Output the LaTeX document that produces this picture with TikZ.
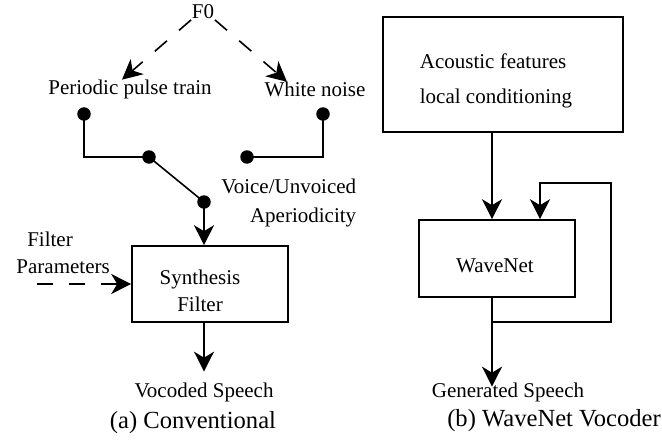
\documentclass[tikz,border=0pt]{standalone}
\usepackage{fontspec}
\setmainfont{Liberation Serif}
\usetikzlibrary{arrows.meta}
\begin{document}
\begin{tikzpicture}[x=1pt,y=-1pt,
  line width=1.6pt,
  lbl/.style={inner sep=0pt,font=\fontsize{21}{25}\selectfont},
  captxt/.style={inner sep=0pt,font=\fontsize{24.6}{30}\selectfont},
  blk/.style={draw,line width=1.6pt,inner sep=0pt},
  dot/.style={circle,fill=black,inner sep=0pt,minimum size=13.5pt},
  arr/.style={-{Stealth[length=20pt,width=20pt,inset=6pt]}},
  dsh/.style={dash pattern=on 16pt off 16pt}]
\useasboundingbox (0,0) rectangle (662,444);
% (a) conventional
\node[lbl] (f0) at (203,12) {F0};
\node[lbl] (ppt) at (130,89) {Periodic pulse train};
\node[lbl] (wnoise) at (315,89) {White noise};
\draw[arr,dsh] (f0.south west) -- ([xshift=-8pt,yshift=-1pt]ppt.north);
\draw[arr,dsh] (f0.south east) -- ([xshift=-28pt,yshift=-1pt]wnoise.north);
\node[dot] (d1) at (84,114) {};
\node[dot] (d2) at (149,157) {};
\node[dot] (d3) at (204,202) {};
\node[dot] (d4) at (247,157) {};
\node[dot] (d5) at (323,114) {};
\draw (d1.center) |- (d2.center);
\draw (d2.center) -- (d3.center);
\draw (d5.center) |- (d4.center);
\node[lbl,align=right,anchor=east] (vu) at (357,203) {Voice/Unvoiced\\[4pt]Aperiodicity};
\node[blk,minimum width=156pt,minimum height=76pt] (synth) at (210,284) {};
\node[lbl,align=center] (synthtxt) at (200,291) {Synthesis\\[2pt]Filter};
\draw[arr] (d3.center) -- (d3.center |- synth.north);
\node[lbl,align=center] (fp) at (50,253) {Filter\\[2pt]\ \ \ \ \ Parameters};
\coordinate (fps) at (37,284);
\draw[arr,dsh] (fps) -- (synth.west |- fps);
\node[lbl] (voc) at (204,392) {Vocoded Speech};
\draw[arr] (synth.south -| d3) -- ([yshift=10pt]voc.north);
\node[captxt] (capa) at (193,423) {(a) Conventional};
% (b) wavenet
\coordinate (ax) at (492,0);
\node[blk,minimum width=240pt,minimum height=115pt] (ac) at (503,74.5) {};
\node[lbl,align=left] (actxt) at (496,81) {Acoustic features\\[10pt]local conditioning};
\node[blk,minimum width=156pt,minimum height=77pt] (wnet) at (497,258.5) {};
\node[lbl] (wntxt) at (495,266) {WaveNet};
\draw[arr] (ac.south -| ax) -- (wnet.north -| ax);
\node[lbl] (gs) at (508,392) {Generated Speech};
\coordinate (jn) at (492,322);
\coordinate (fbtop) at (611,183);
\coordinate (fbx) at (540,0);
\draw (wnet.south -| ax) -- (jn);
\draw[arr] (jn) -- ([yshift=-5pt]gs.north -| ax);
\draw[arr] (jn) -| (fbtop) -| (wnet.north -| fbx);
\node[captxt] (capb) at (554,421) {(b) WaveNet Vocoder};
\end{tikzpicture}
\end{document}
